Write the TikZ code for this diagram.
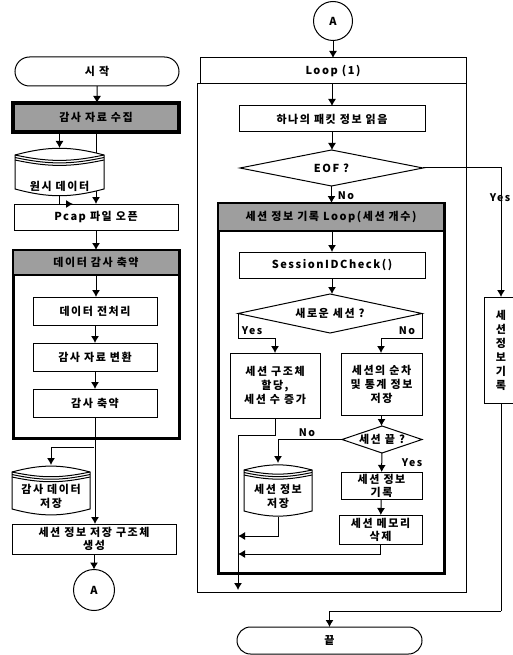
\documentclass[tikz,border=0pt]{standalone}
\usepackage{fontspec}
\setmainfont[LetterSpace=14]{Noto Sans CJK KR}
\usetikzlibrary{arrows.meta,calc,shapes.geometric,shapes.misc}
\tikzset{
  x=1pt,y=-1pt,
  basenode/.style={outer sep=0pt,inner sep=0pt,align=center,font=\fontsize{11}{14}\selectfont\bfseries},
  box/.style={basenode,draw=black,fill=white,line width=1pt},
  term/.style={box,rounded rectangle},
  heavy/.style={box,line width=3pt},
  headband/.style={basenode,draw=black,fill=black!38,line width=3.5pt},
  subband/.style={basenode,draw=black,fill=black!38,line width=2pt},
  conn/.style={circle,box},
  dia/.style={diamond,box},
  dbframe/.style={basenode},
  lbl/.style={basenode},
  tag/.style={basenode,font=\fontsize{10.5}{13}\selectfont\bfseries},
  arr/.style={line width=1pt,-{Latex[length=7pt,width=8pt]}},
  ln/.style={line width=1pt},
  dbline/.style={line width=1pt,draw=black,fill=white},
}
\newcommand{\dbshape}[1]{%
  \draw[dbline] ($(#1.north west)+(0,7)$) to[bend left=15] ($(#1.north east)+(0,7)$)
     -- ($(#1.south east)+(0,-6)$) to[bend left=15] ($(#1.south west)+(0,-6)$) -- cycle;
  \draw[ln] ($(#1.north west)+(0,7)$) to[bend right=12] ($(#1.north east)+(0,7)$);
  \draw[ln] ($(#1.north west)+(0,9.5)$) to[bend right=12] ($(#1.north east)+(0,9.5)$);
  \draw[ln] ($(#1.north west)+(0,12)$) to[bend right=12] ($(#1.north east)+(0,12)$);
}
\begin{document}
\begin{tikzpicture}
\useasboundingbox (0,0) rectangle (513,655);
% left column
\node[term,minimum width=164pt,minimum height=29pt] (start) at (97,71.5) {시 작};
\node[headband,minimum width=166pt,minimum height=29pt] (collect) at (96,117.5) {감사 자료 수집};
\node[dbframe,minimum width=89pt,minimum height=47pt] (db1) at (59.5,171.5) {};
\node[box,minimum width=164pt,minimum height=26pt] (pcap) at (96,217) {Pcap 파일 오픈};
\node[heavy,minimum width=166pt,minimum height=188pt] (reduce) at (96,344) {};
\node[subband,minimum width=166pt,minimum height=25pt] (reduceh) at (96,262.5) {데이터 감사 축약};
\node[box,minimum width=124pt,minimum height=28pt] (prep) at (95,311) {데이터 전처리};
\node[box,minimum width=124pt,minimum height=28pt] (conv) at (95,357) {감사 자료 변환};
\node[box,minimum width=124pt,minimum height=28pt] (abbr) at (95,403) {감사 축약};
\node[dbframe,minimum width=78pt,minimum height=50pt] (db2) at (51,490) {};
\node[box,minimum width=164pt,minimum height=30pt] (store) at (94,539) {세션 정보 저장 구조체\\[-1pt]생성};
\node[conn,minimum size=41pt] (aL) at (94,590) {A};
% right column
\node[conn,minimum size=39pt] (aR) at (333,21) {A};
\node[box,minimum width=269pt,minimum height=508pt] (loop) at (331.5,338) {};
\node[box,minimum width=266pt,minimum height=26pt] (loophead) at (333,71) {Loop (1)};
\node[box,minimum width=186pt,minimum height=26pt] (read) at (332,119) {하나의 패킷 정보 읽음};
\node[dia,minimum width=183pt,minimum height=36pt,label=center:{\fontsize{11}{14}\selectfont\bfseries EOF ?}] (eof) at (331.5,168) {};
\node[heavy,minimum width=226pt,minimum height=370pt] (sess) at (331,388) {};
\node[subband,minimum width=226pt,minimum height=28pt] (sessh) at (331,217) {세션 정보 기록 Loop(세션 개수)};
\node[box,minimum width=186pt,minimum height=26pt] (check) at (332,265) {SessionIDCheck()};
\node[dia,minimum width=184pt,minimum height=39pt,label=center:{\fontsize{11}{14}\selectfont\bfseries 새로운 세션 ?}] (newq) at (330,313.5) {};
\node[box,minimum width=90pt,minimum height=65pt] (alloc) at (275,385.5) {세션 구조체\\할당,\\세션 수 증가};
\node[box,minimum width=81pt,minimum height=62pt] (seq) at (381.5,384) {세션의 순차\\및 통계 정보\\저장};
\node[dia,minimum width=80pt,minimum height=27pt,label=center:{\fontsize{11}{14}\selectfont\bfseries 세션 끝 ?}] (endq) at (382,439.5) {};
\node[dbframe,minimum width=68pt,minimum height=54pt] (db3) at (278,490) {};
\node[box,minimum width=81pt,minimum height=27pt] (wr) at (381.5,485.5) {세션 정보\\[-1pt]기록};
\node[box,minimum width=83pt,minimum height=29pt] (del) at (380.5,529.5) {세션 메모리\\[-1pt]삭제};
\node[box,minimum width=34pt,minimum height=106pt] (vbox) at (501,350) {세\\션\\정\\보\\기\\록};
\node[term,minimum width=185pt,minimum height=27pt] (end) at (329.5,640.5) {끝};
% free junctions
\coordinate (p1) at (73,204);
\coordinate (b1) at (94,447);
\coordinate (j2) at (275,338);
\coordinate (j3) at (381,338);
\coordinate (j4) at (275,435);
\coordinate (t1) at (238,435);
\coordinate (t2) at (238,590);
\coordinate (j5) at (501,611);
% connectors, left
\draw[arr] (start) -- (start |- collect.north);
\draw[arr] (collect.south) -- (pcap.north);
\draw[arr] (db1.north |- collect.south) -- (db1.north);
\draw[arr] (db1.south) |- (p1);
\draw[arr] (pcap) -- (pcap |- reduceh.north);
\draw[arr] (reduceh.south) -- (prep.north -| reduceh.south);
\draw[arr] (prep) -- (conv);
\draw[arr] (conv) -- (abbr);
\draw[arr] (abbr.south) -- (abbr.south |- store.north);
\draw[arr] (b1) -| (db2.north);
\draw[arr] (store) -- (aL);
% connectors, right
\draw[arr] (aR) -- (loophead);
\draw[arr] (read.north |- loophead.south) -- (read.north);
\draw[arr] (read) -- (eof.north -| read);
\draw[arr] (eof.south) -- (sessh.north -| eof.south);
\draw[arr] (check.north |- sessh.south) -- (check.north);
\draw[arr] (check) -- (check |- newq.north);
\draw[ln] (newq.west) |- (j2);
\draw[arr] (j2) -- (alloc.north);
\draw[ln] (newq.east) |- (j3);
\draw[arr] (j3) -- (seq.north -| j3);
\draw[ln] (alloc.south) -- (j4) -- (t1);
\draw[arr] (t1) -- (t2);
\draw[arr] (seq) -- (seq |- endq.north);
\draw[arr] (endq) -- (wr);
\draw[arr] (wr) -- (del);
\draw[arr] (endq.west) -| (db3.north);
\draw[arr] (db3.south) |- (t1 |- 0,536);
\draw[arr] (del.south) |- (t1 |- 0,554);
\draw[arr] (eof.east) -| (vbox.north);
\draw[ln] (vbox.south) -- (j5);
\draw[arr] (j5) -| (end.north);
% storage drums over the lines
\dbshape{db1}
\dbshape{db2}
\dbshape{db3}
\node[lbl] (db1t) at ($(db1)+(0,15)$) {원시 데이터};
\node[lbl] (db2t) at ($(db2)+(0,6)$) {감사 데이터\\저장};
\node[lbl] (db3t) at ($(db3)+(0,6)$) {세션 정보\\저장};
% branch labels
\node[tag] (no1) at (346,196) {No};
\node[tag] (yes1) at (500,198) {Yes};
\node[tag] (yes2) at (252,331) {Yes};
\node[tag] (no2) at (407,331) {No};
\node[tag] (no3) at (307,433) {No};
\node[tag] (yes3) at (412,463) {Yes};
\end{tikzpicture}
\end{document}
